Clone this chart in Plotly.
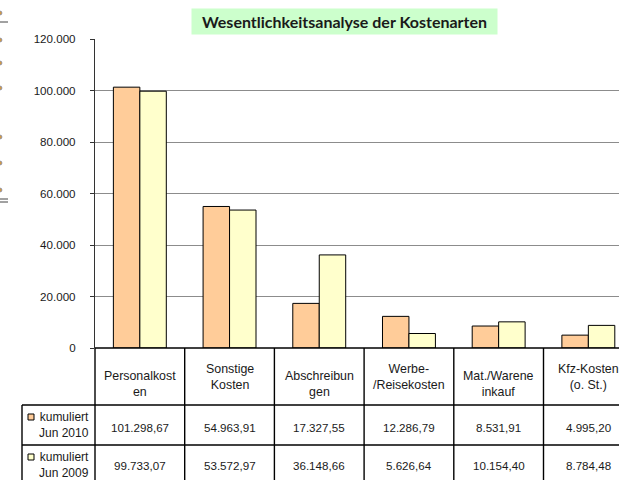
import plotly.graph_objects as go

# ---------------- data ----------------
categories = ["Personalkosten", "Sonstige Kosten", "Abschreibungen",
              "Werbe-/Reisekosten", "Mat./Wareneinkauf", "Kfz-Kosten (o. St.)"]
header_labels = ["Personalkost<br>en", "Sonstige<br>Kosten", "Abschreibun<br>gen",
                 "Werbe-<br>/Reisekosten", "Mat./Warene<br>inkauf", "Kfz-Kosten<br>(o. St.)"]
series_names = ["kumuliert<br>Jun 2010", "kumuliert<br>Jun 2009"]
values_2010 = [101298.67, 54963.91, 17327.55, 12286.79, 8531.91, 4995.20]
values_2009 = [99733.07, 53572.97, 36148.66, 5626.64, 10154.40, 8784.48]
y_tickvals = [0, 20000, 40000, 60000, 80000, 100000, 120000]
title_text = "Wesentlichkeitsanalyse der Kostenarten"

# ---------------- style ----------------
W, H = 619, 480
ML, MR, MT, MB = 95, 0, 39, 132
PW, PH = W - ML - MR, H - MT - MB
CAT_PX = 89.7
X0 = -0.5
X1 = X0 + PW / CAT_PX
FONT = "Liberation Sans, Arial, sans-serif"
TXT = "#1a1a1a"
C2010 = "#FFCC99"
C2009 = "#FFFFCC"


def px_x(p):
    return (p - ML) / PW


def px_y(p):
    return (H - MB - p) / PH


def cat_x(k):
    return (k - X0) / (X1 - X0)


def de(v):
    s = f"{v:,.2f}"
    return s.replace(",", "X").replace(".", ",").replace("X", ".")


fig = go.Figure()
fig.add_trace(go.Bar(x=categories, y=values_2010, name=series_names[0],
                     marker=dict(color=C2010, line=dict(color="#000", width=1))))
fig.add_trace(go.Bar(x=categories, y=values_2009, name=series_names[1],
                     marker=dict(color=C2009, line=dict(color="#000", width=1))))

shapes = []
ann = []
LW = 1.4
LC = "#000"
# table lines
y_top, y_r1, y_r2, y_bot = 348, 405, 445, 492
shapes.append(dict(type="line", xref="paper", yref="paper", x0=0, x1=1.05,
                   y0=px_y(y_top), y1=px_y(y_top), line=dict(color=LC, width=LW)))
for yy in (y_r1, y_r2):
    shapes.append(dict(type="line", xref="paper", yref="paper", x0=px_x(22), x1=1.05,
                       y0=px_y(yy), y1=px_y(yy), line=dict(color=LC, width=LW)))
shapes.append(dict(type="line", xref="paper", yref="paper", x0=px_x(22), x1=px_x(22),
                   y0=px_y(y_r1), y1=px_y(y_bot), line=dict(color=LC, width=LW)))
for k in range(len(categories) + 1):
    xp = cat_x(k - 0.5)
    if xp > 1.01:
        continue
    shapes.append(dict(type="line", xref="paper", yref="paper", x0=xp, x1=xp,
                       y0=px_y(y_top), y1=px_y(y_bot), line=dict(color=LC, width=LW)))

header_shift = [7, 0, 7, 0, 7, 0]
for i, lab in enumerate(header_labels):
    ann.append(dict(xref="x", yref="paper", x=categories[i], y=px_y(377 + header_shift[i]),
                    text=lab, showarrow=False, yanchor="middle", xanchor="center",
                    align="center", font=dict(family=FONT, size=12.4, color=TXT)))
for vals, yc in ((values_2010, 427), (values_2009, 465)):
    for i, v in enumerate(vals):
        ann.append(dict(xref="x", yref="paper", x=categories[i], y=px_y(yc),
                        text=de(v), showarrow=False, yanchor="middle", xanchor="center",
                        font=dict(family=FONT, size=11.6, color=TXT)))

# legend keys in table
for name, col, yc in ((series_names[0], C2010, 425), (series_names[1], C2009, 465)):
    ann.append(dict(xref="paper", yref="paper", x=px_x(91), y=px_y(yc), text=name,
                    showarrow=False, xanchor="right", yanchor="middle", align="right",
                    font=dict(family=FONT, size=12, color=TXT)))
    shapes.append(dict(type="rect", xref="paper", yref="paper", x0=px_x(28), x1=px_x(34),
                       y0=px_y(yc - 11), y1=px_y(yc - 5),
                       fillcolor=col, line=dict(color="#000", width=1)))

# title
ann.append(dict(xref="paper", yref="paper", x=px_x(344.5), y=px_y(21), text="<b>" + title_text + "</b>",
                showarrow=False, xanchor="center", yanchor="middle", bgcolor="#CCFFCC",
                width=303, height=23, font=dict(family="Lato, Open Sans, sans-serif", size=16, color="#1a1a1a")))

# spreadsheet remnants on the left edge
for yy in (13, 40, 63, 88, 137, 163, 190):
    shapes.append(dict(type="circle", xref="paper", yref="paper", x0=px_x(-2), x1=px_x(2),
                       y0=px_y(yy + 2), y1=px_y(yy - 2), fillcolor="#d19a45",
                       line=dict(color="#6d7fb3", width=0.6)))
for yy in (22, 199, 202):
    shapes.append(dict(type="line", xref="paper", yref="paper", x0=px_x(0), x1=px_x(8),
                       y0=px_y(yy), y1=px_y(yy), line=dict(color="#444", width=1)))

fig.update_layout(
    width=W, height=H,
    margin=dict(l=ML, r=MR, t=MT, b=MB, pad=0),
    paper_bgcolor="white", plot_bgcolor="white",
    barmode="group", bargap=0.41, bargroupgap=0,
    showlegend=False,
    separators=",.",
    shapes=shapes, annotations=ann,
    font=dict(family=FONT, size=11, color=TXT),
)
fig.update_xaxes(range=[X0, X1], showticklabels=False, showgrid=False, zeroline=False,
                 showline=False, ticks="", fixedrange=True)
fig.update_yaxes(range=[0, 120000], tickvals=y_tickvals, tickformat=",d",
                 showgrid=True, gridcolor="#8c8c8c", gridwidth=1,
                 showline=True, linecolor="#333", linewidth=1.2,
                 ticks="outside", ticklen=4, tickcolor="#333",
                 ticklabelstandoff=12, zeroline=False,
                 tickfont=dict(family=FONT, size=11.6, color=TXT))

fig.write_html("out.html", config={"displayModeBar": False},
               post_script="document.body.style.margin='0';document.body.style.overflow='hidden';")
